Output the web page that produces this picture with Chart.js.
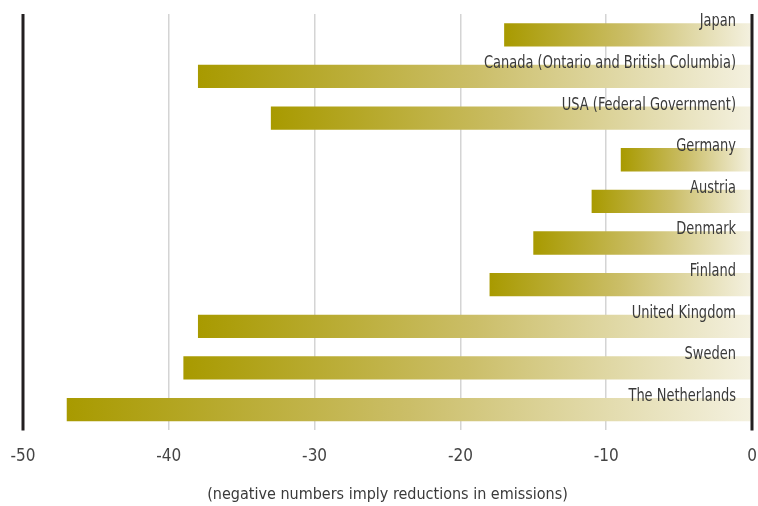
<!DOCTYPE html>
<html>
<head>
<meta charset="utf-8">
<script src="https://cdn.jsdelivr.net/npm/chart.js@4/dist/chart.umd.min.js"></script>
<style>
  html, body { margin: 0; padding: 0; background: #fff; }
  #wrap { width: 758px; height: 506px; }
</style>
</head>
<body>
<div id="wrap"><canvas id="chart"></canvas></div>
<script>
// data
const countries = ["Japan", "Canada (Ontario and British Columbia)", "USA (Federal Government)",
    "Germany", "Austria", "Denmark", "Finland", "United Kingdom", "Sweden", "The Netherlands"];
const changes = [-17, -38, -33, -9, -11, -15, -18, -38, -39, -47];
const tickValues = [-50, -40, -30, -20, -10, 0];
const axisTitle = "(negative numbers imply reductions in emissions)";

const fontName = "'DejaVu Sans', sans-serif";

// gradient per bar, dark olive at the left end, pale at zero
function barFill(context) {
    const chart = context.chart;
    if (!chart.chartArea) return "#c9bc62";
    const x = chart.scales.x;
    const left = x.getPixelForValue(changes[context.dataIndex]);
    const right = x.getPixelForValue(0);
    const g = chart.ctx.createLinearGradient(left, 0, right, 0);
    g.addColorStop(0, "#a89a00");
    g.addColorStop(0.5, "#cbbe68");
    g.addColorStop(1, "#f4f1e0");
    return g;
}

// country names, right aligned above each bar
const namePlugin = {
    id: "names",
    afterDatasetsDraw(chart) {
        const ctx = chart.ctx;
        const x = chart.scales.x;
        const y = chart.scales.y;
        const squeeze = 0.85;
        ctx.save();
        ctx.font = "condensed 17px " + fontName;
        ctx.fillStyle = "#3a3a3a";
        ctx.textAlign = "right";
        ctx.textBaseline = "middle";
        countries.forEach((name, i) => {
            const tx = x.getPixelForValue(0) - 16;
            const ty = y.getPixelForValue(i) - 13;
            ctx.save();
            ctx.translate(tx, ty);
            ctx.scale(squeeze, 1);
            ctx.fillText(name, 0, 0);
            ctx.restore();
        });
        // heavy lines at -50 and 0 on top
        ctx.strokeStyle = "#231f20";
        ctx.lineWidth = 3;
        [-50, 0].forEach(v => {
            const px = x.getPixelForValue(v);
            ctx.beginPath();
            ctx.moveTo(px, chart.chartArea.top);
            ctx.lineTo(px, chart.chartArea.bottom);
            ctx.stroke();
        });
        ctx.restore();
    }
};

new Chart(document.getElementById("chart"), {
    type: "bar",
    data: {
        labels: countries,
        datasets: [{
            data: changes,
            backgroundColor: barFill,
            borderWidth: 0,
            barPercentage: 0.56,
            categoryPercentage: 1.0
        }]
    },
    options: {
        indexAxis: "y",
        responsive: true,
        maintainAspectRatio: false,
        animation: false,
        layout: { padding: { top: 14, left: 23, right: 6, bottom: 2 } },
        plugins: { legend: { display: false }, tooltip: { enabled: false } },
        scales: {
            x: {
                min: -50,
                max: 0,
                afterBuildTicks(axis) { axis.ticks = tickValues.map(v => ({ value: v })); },
                afterFit(axis) { axis.paddingLeft = 0; axis.paddingRight = 0; },
                grid: {
                    color: c => (c.tick && (c.tick.value === -50 || c.tick.value === 0)) ? "rgba(0,0,0,0)" : "#d4d4d4",
                    lineWidth: 1.5,
                    drawTicks: false
                },
                border: { display: false },
                ticks: {
                    color: "#444",
                    padding: 16,
                    font: { family: fontName, size: 17, weight: "condensed" }
                },
                title: {
                    display: true,
                    text: axisTitle,
                    color: "#3a3a3a",
                    padding: { top: 2, bottom: 0 },
                    font: { family: fontName, size: 16, weight: "condensed" }
                }
            },
            y: { display: false }
        }
    },
    plugins: [namePlugin]
});
</script>
</body>
</html>
